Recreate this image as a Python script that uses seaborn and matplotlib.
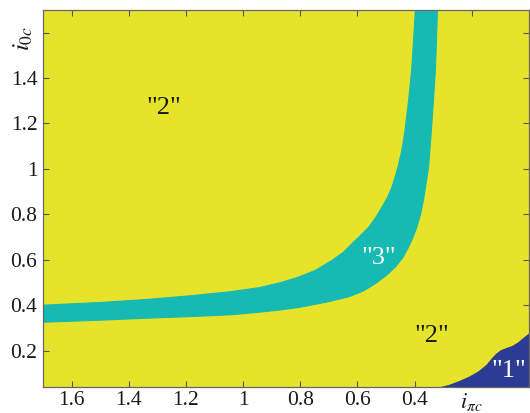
import numpy as np
import matplotlib
matplotlib.use("Agg")
import matplotlib.pyplot as plt
import matplotlib.transforms as mtransforms
import seaborn as sns

# boundary of region "3" (the band)
outer_x = [1.70, 1.50, 1.33, 1.18, 1.04, 0.94, 0.864, 0.805, 0.746, 0.688, 0.650, 0.619,
           0.590, 0.560, 0.536, 0.514, 0.495, 0.479, 0.458, 0.445, 0.435, 0.421, 0.410, 0.403, 0.397]
outer_y = [0.400, 0.412, 0.426, 0.442, 0.460, 0.478, 0.501, 0.524, 0.554, 0.598, 0.632, 0.671,
           0.706, 0.744, 0.786, 0.832, 0.874, 0.920, 1.008, 1.080, 1.156, 1.301, 1.44, 1.58, 1.70]
inner_x = [1.70, 1.50, 1.33, 1.18, 1.04, 0.944, 0.87, 0.805, 0.71, 0.630, 0.580, 0.537,
           0.500, 0.467, 0.441, 0.421, 0.405, 0.392, 0.379, 0.369, 0.351, 0.342, 0.334, 0.327,
           0.323, 0.320]
inner_y = [0.325, 0.334, 0.343, 0.350, 0.358, 0.369, 0.379, 0.390, 0.413, 0.437, 0.462, 0.495,
           0.530, 0.568, 0.610, 0.656, 0.700, 0.744, 0.800, 0.862, 1.008, 1.156, 1.301, 1.44,
           1.58, 1.70]

# boundary of region "1" (bottom right)
r1_x = [0.316, 0.28, 0.246, 0.21, 0.177, 0.15, 0.131, 0.115, 0.100, 0.080, 0.061, 0.040, 0.026, 0.0]
r1_y = [0.040, 0.052, 0.068, 0.088, 0.112, 0.140, 0.169, 0.190, 0.204, 0.214, 0.222, 0.238, 0.253, 0.279]

x_ticks = [1.6, 1.4, 1.2, 1.0, 0.8, 0.6, 0.4, 0.2]
x_ticklabels = ["1.6", "1.4", "1.2", "1", "0.8", "0.6", "0.4", r"$i_{\pi c}$"]
y_ticks = [0.2, 0.4, 0.6, 0.8, 1.0, 1.2, 1.4, 1.6]
y_ticklabels = ["0.2", "0.4", "0.6", "0.8", "1", "1.2", "1.4", ""]

region_labels = ['"2"', '"2"', '"3"', '"1"']
label_x = [1.276, 0.341, 0.525, 0.072]
label_y = [1.268, 0.266, 0.607, 0.112]
label_colors = ["#1a1a1a", "#1a1a1a", "white", "white"]

yellow = "#E6E42A"
cyan = "#17BAB2"
blue = "#2C3C95"

sns.set_theme(style="ticks")
plt.rcParams["font.family"] = ["Liberation Serif", "DejaVu Serif"]
plt.rcParams["mathtext.fontset"] = "stix"

fig = plt.figure(figsize=(5.30, 4.13), dpi=100)
ax = fig.add_axes([0.081, 0.063, 0.917, 0.913])
ax.set_xlim(1.70, 0.0)
ax.set_ylim(0.04, 1.70)
ax.set_facecolor(yellow)

# band "3"
band_x = np.concatenate([outer_x, inner_x[::-1]])
band_y = np.concatenate([outer_y, inner_y[::-1]])
ax.fill(band_x, band_y, color=cyan, lw=0)
sns.lineplot(x=outer_x, y=outer_y, sort=False, estimator=None, color=cyan, lw=0.8, ax=ax)
sns.lineplot(x=inner_x, y=inner_y, sort=False, estimator=None, color=cyan, lw=0.8, ax=ax)

# region "1"
ax.fill_between(r1_x, ax.get_ylim()[0], r1_y, color=blue, lw=0)

for txt, lx, ly, c in zip(region_labels, label_x, label_y, label_colors):
    ax.text(lx, ly, txt, color=c, fontsize=19, ha="center", va="center")

ax.set_xticks(x_ticks)
ax.set_xticklabels(x_ticklabels)
ax.set_yticks(y_ticks)
ax.set_yticklabels(y_ticklabels)
ax.tick_params(direction="in", length=4, width=0.8, top=True, right=True,
               labelsize=15.5, colors="#555555", labelcolor="#1a1a1a")
ax.tick_params(axis="x", pad=3)
ax.tick_params(axis="y", pad=4)
ax.get_xticklabels()[-1].set_fontsize(16)
for s in ax.spines.values():
    s.set_color("#666666")
    s.set_linewidth(0.9)

trans = mtransforms.blended_transform_factory(ax.transAxes, ax.transData)
ax.text(-0.040, 1.576, r"$i_{0c}$", transform=trans, rotation=90,
        fontsize=18, ha="center", va="center", color="#1a1a1a")

fig.savefig("out.png", dpi=100)
